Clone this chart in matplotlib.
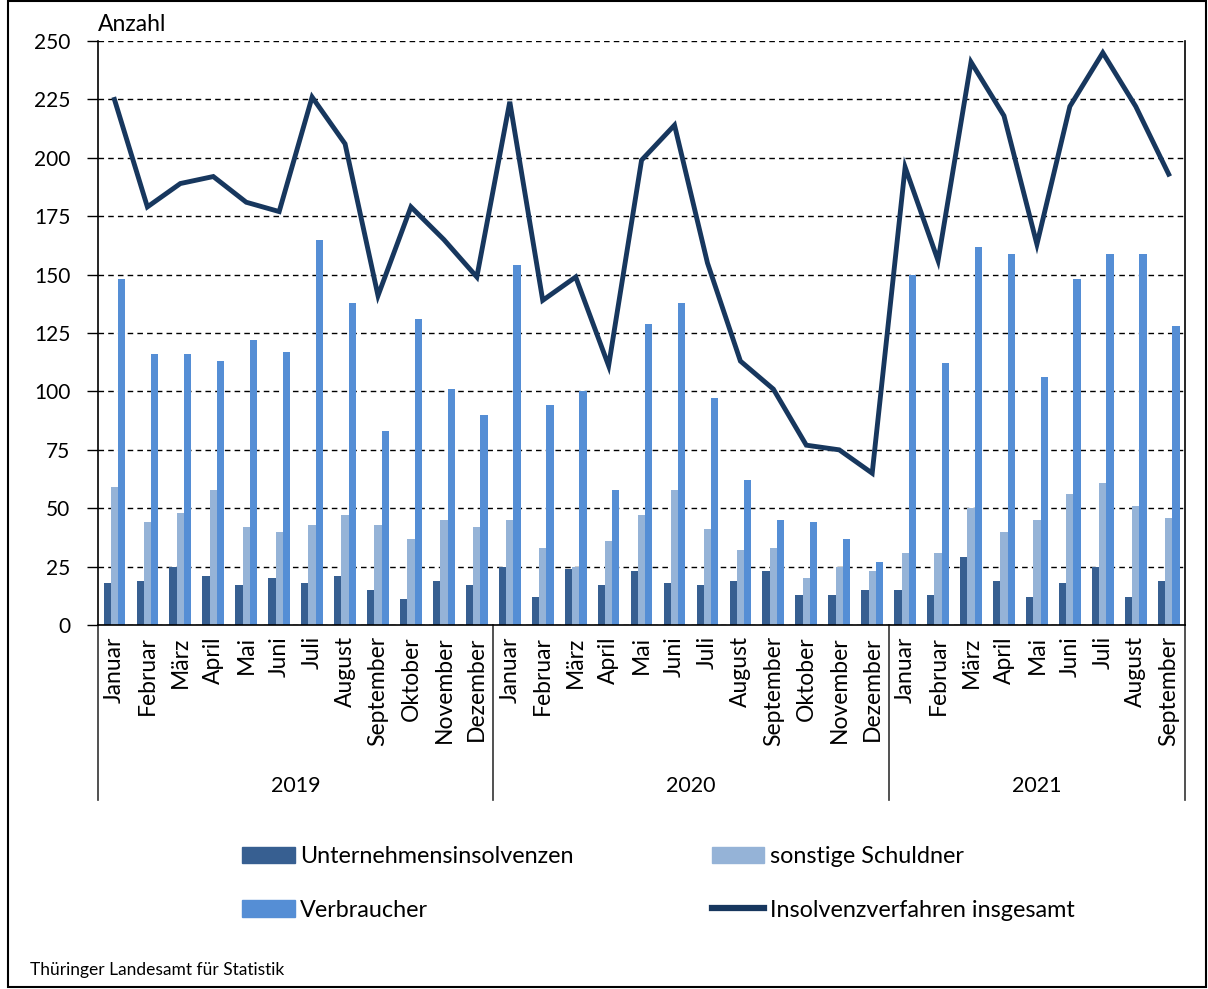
"""
Insolvenzen in Thüringen, Januar 2019 bis September 2021, als Balken- und Liniendiagramm.
"""

import numpy as np
import matplotlib
matplotlib.use("Agg")
import matplotlib.pyplot as plt
from matplotlib.patches import Rectangle, Patch
from matplotlib.lines import Line2D

plt.rcParams['font.family'] = ['Lato', 'DejaVu Sans']

# Daten
months = ["Januar", "Februar", "März", "April", "Mai", "Juni", "Juli",
          "August", "September", "Oktober", "November", "Dezember"]
years = ["2019", "2020", "2021"]
months_per_year = [12, 12, 9]
labels = months * 2 + months[:9]

unternehmen = [18, 19, 25, 21, 17, 20, 18, 21, 15, 11, 19, 17,
               25, 12, 24, 17, 23, 18, 17, 19, 23, 13, 13, 15,
               15, 13, 29, 19, 12, 18, 25, 12, 19]
sonstige = [59, 44, 48, 58, 42, 40, 43, 47, 43, 37, 45, 42,
            45, 33, 25, 36, 47, 58, 41, 32, 33, 20, 25, 23,
            31, 31, 50, 40, 45, 56, 61, 51, 46]
verbraucher = [148, 116, 116, 113, 122, 117, 165, 138, 83, 131, 101, 90,
               154, 94, 100, 58, 129, 138, 97, 62, 45, 44, 37, 27,
               150, 112, 162, 159, 106, 148, 159, 159, 128]
insgesamt = [225, 179, 189, 192, 181, 177, 226, 206, 141, 179, 165, 149,
             224, 139, 149, 111, 199, 214, 155, 113, 101, 77, 75, 65,
             196, 156, 241, 218, 163, 222, 245, 222, 193]

c_unt = "#375F91"
c_son = "#95B3D7"
c_ver = "#558ED5"
c_ges = "#17375E"


def plot_chart():
    fig = plt.figure(figsize=(12.08, 9.89), dpi=100)
    ax = fig.add_axes([0.0811, 0.368, 0.9, 0.5905])

    x = np.arange(len(labels))
    w = 0.22
    ax.bar(x - w, unternehmen, w, color=c_unt, zorder=2)
    ax.bar(x, sonstige, w, color=c_son, zorder=2)
    ax.bar(x + w, verbraucher, w, color=c_ver, zorder=2)
    ax.plot(x, insgesamt, color=c_ges, lw=3.5, zorder=3,
            solid_joinstyle='miter')

    ax.set_xlim(-0.5, len(labels) - 0.5)
    ax.set_ylim(0, 250)
    ax.set_yticks(np.arange(0, 251, 25))
    ax.tick_params(axis='y', labelsize=15, length=8, width=1, direction='out', pad=12)
    ax.set_xticks(x)
    ax.set_xticklabels(labels, rotation=90, fontsize=16.5)
    ax.tick_params(axis='x', length=0, pad=8)

    ax.grid(axis='y', color='black', linestyle=(0, (4, 3)), lw=1.0)
    ax.set_axisbelow(True)
    ax.spines['top'].set_visible(False)
    for s in ['left', 'bottom', 'right']:
        ax.spines[s].set_linewidth(1.2)

    ax.text(0, 1.01, "Anzahl", transform=ax.transAxes, fontsize=16.5,
            ha='left', va='bottom')

    # Jahresgruppen unter der Achse
    tr = ax.get_xaxis_transform()
    start = -0.5
    bounds = [start]
    for n in months_per_year:
        bounds.append(bounds[-1] + n)
    for b in bounds:
        ax.plot([b, b], [0, -0.30], transform=tr, color='#333333', lw=1.2,
                clip_on=False)
    for i, yr in enumerate(years):
        mid = (bounds[i] + bounds[i + 1]) / 2
        ax.text(mid, -0.276, yr, transform=tr, fontsize=15.5,
                ha='center', va='center')

    handles = [Patch(color=c_unt), Patch(color=c_ver),
               Patch(color=c_son), Line2D([], [], color=c_ges, lw=4.5)]
    names = ["Unternehmensinsolvenzen", "Verbraucher",
             "sonstige Schuldner", "Insolvenzverfahren insgesamt"]
    fig.legend(handles, names, ncol=2, loc='center left',
               bbox_to_anchor=(0.183, 0.107), frameon=False, fontsize=16.8,
               handlelength=2.25, handleheight=0.7, handletextpad=0.25,
               columnspacing=5.9, labelspacing=1.4)

    fig.text(0.025, 0.019, "Thüringer Landesamt für Statistik", fontsize=12.5,
             ha='left', va='center')
    fig.add_artist(Rectangle((0.007, 0.002), 0.991, 0.997, transform=fig.transFigure,
                             fill=False, edgecolor='black', lw=1.5))

    fig.savefig("out.png", dpi=100)


def main():
    plot_chart()


if __name__ == '__main__':
    main()
